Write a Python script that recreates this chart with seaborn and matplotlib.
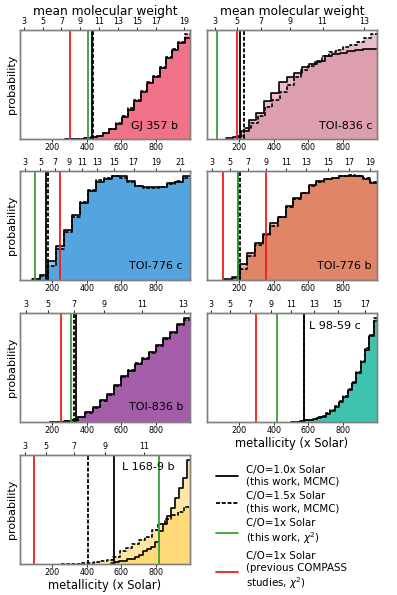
import numpy as np
import matplotlib
matplotlib.use("Agg")
import matplotlib.pyplot as plt
from matplotlib.lines import Line2D
import seaborn as sns

# Panels, read left->right, top->bottom
planets = ["GJ 357 b", "TOI-836 c", "TOI-776 c", "TOI-776 b", "TOI-836 b", "L 98-59 c", "L 168-9 b"]
fill_colors = ["#eb4562", "#d38094", "#1c87d7", "#d75f37", "#872a8e", "#00af94", "#ffce4b"]

# lowest metallicity sample of each posterior (all run up to 1000x Solar)
start_co10 = [277, 123, 86, 115, 190, 500, 540]
start_co15 = [277, 190, 86, 115, 190, 500, 252]

# 20-bin histogram heights (normalised to panel height)
hist_co10 = {
    "GJ 357 b": [0.003, 0.003, 0.004, 0.006, 0.015, 0.03, 0.055, 0.09, 0.14, 0.20,
                 0.27, 0.35, 0.43, 0.51, 0.57, 0.65, 0.74, 0.82, 0.88, 0.93],
    "TOI-836 c": [0.005, 0.015, 0.07, 0.17, 0.24, 0.35, 0.42, 0.52, 0.57, 0.61,
                  0.66, 0.69, 0.72, 0.76, 0.78, 0.79, 0.81, 0.82, 0.83, 0.83],
    "TOI-776 c": [0.008, 0.05, 0.17, 0.31, 0.46, 0.60, 0.71, 0.82, 0.90, 0.93,
                  0.95, 0.95, 0.91, 0.86, 0.85, 0.85, 0.85, 0.89, 0.90, 0.95],
    "TOI-776 b": [0.005, 0.025, 0.145, 0.25, 0.34, 0.42, 0.52, 0.58, 0.68, 0.75,
                  0.80, 0.87, 0.91, 0.93, 0.94, 0.95, 0.95, 0.95, 0.93, 0.89],
    "TOI-836 b": [0.003, 0.003, 0.005, 0.02, 0.05, 0.09, 0.14, 0.20, 0.26, 0.34,
                  0.42, 0.47, 0.53, 0.58, 0.64, 0.71, 0.77, 0.83, 0.90, 0.95],
    "L 98-59 c": [0.003, 0.004, 0.006, 0.015, 0.02, 0.03, 0.04, 0.05, 0.076, 0.10,
                  0.14, 0.18, 0.23, 0.29, 0.36, 0.45, 0.55, 0.66, 0.79, 0.93],
    "L 168-9 b": [0.005, 0.015, 0.025, 0.03, 0.042, 0.05, 0.066, 0.087, 0.117, 0.14,
                  0.157, 0.20, 0.30, 0.37, 0.44, 0.51, 0.61, 0.70, 0.79, 0.95],
}
hist_co15 = {
    "GJ 357 b": [0.003, 0.003, 0.004, 0.007, 0.017, 0.032, 0.058, 0.095, 0.145, 0.21,
                 0.28, 0.36, 0.44, 0.52, 0.58, 0.66, 0.75, 0.83, 0.89, 0.96],
    "TOI-836 c": [0.03, 0.10, 0.15, 0.21, 0.29, 0.36, 0.43, 0.50, 0.57, 0.63,
                  0.67, 0.71, 0.76, 0.80, 0.82, 0.84, 0.86, 0.89, 0.93, 0.96],
    "TOI-776 c": [0.005, 0.035, 0.13, 0.28, 0.44, 0.58, 0.72, 0.83, 0.92, 0.94,
                  0.95, 0.94, 0.90, 0.86, 0.84, 0.84, 0.85, 0.88, 0.91, 0.94],
    "TOI-776 b": [0.003, 0.015, 0.10, 0.22, 0.32, 0.41, 0.50, 0.58, 0.67, 0.74,
                  0.80, 0.86, 0.90, 0.93, 0.94, 0.95, 0.96, 0.95, 0.94, 0.90],
    "TOI-836 b": [0.003, 0.003, 0.006, 0.022, 0.048, 0.085, 0.13, 0.19, 0.25, 0.33,
                  0.41, 0.48, 0.54, 0.59, 0.63, 0.70, 0.76, 0.82, 0.89, 0.94],
    "L 98-59 c": [0.003, 0.004, 0.006, 0.014, 0.022, 0.032, 0.042, 0.055, 0.08, 0.11,
                  0.145, 0.19, 0.24, 0.30, 0.37, 0.46, 0.56, 0.68, 0.80, 0.95],
    "L 168-9 b": [0.002, 0.003, 0.004, 0.006, 0.012, 0.016, 0.025, 0.035, 0.06, 0.12,
                  0.15, 0.18, 0.22, 0.25, 0.31, 0.37, 0.41, 0.45, 0.48, 0.52],
}

# vertical markers (metallicity, x Solar)
mcmc_co10 = [429, 205, 166, 196, 337, 576, 559]
mcmc_co15 = [436, 229, 175, 204, 324, 576, 408]
chi2_this = [406, 72, 99, 191, 309, 418, 819]
chi2_prev = [[306], [187], [244], [109, 357], [253], [299], [97]]

# mean molecular weight axis: tick positions in metallicity units
mmw_pos = [
    [37, 146, 254, 363, 473, 579, 690, 800, 960],
    [63, 187, 326, 494, 681, 919],
    [42, 133, 219, 295, 371, 457, 556, 670, 800, 937],
    [45, 147, 253, 357, 469, 588, 711, 834, 957],
    [48, 177, 324, 501, 720, 958],
    [38, 150, 261, 382, 500, 634, 768, 926],
    [45, 165, 324, 505, 732],
]
mmw_labels = [
    [3, 5, 7, 9, 11, 13, 15, 17, 19],
    [3, 5, 7, 9, 11, 13],
    [3, 5, 7, 9, 11, 13, 15, 17, 19, 21],
    [3, 5, 7, 9, 11, 13, 15, 17, 19],
    [3, 5, 7, 9, 11, 13],
    [3, 5, 7, 9, 11, 13, 15, 17],
    [3, 5, 7, 9, 11],
]
metal_ticks = [200, 400, 600, 800]

# where the planet name sits (axes fraction)
name_pos = [(0.93, 0.12, "right"), (0.975, 0.12, "right"), (0.955, 0.13, "right"),
            (0.965, 0.13, "right"), (0.96, 0.135, "right"), (0.60, 0.88, "left"),
            (0.60, 0.89, "left")]

sns.set_style("white")
plt.rcParams["font.family"] = ["DejaVu Sans"]
plt.rcParams["text.color"] = "black"
plt.rcParams["axes.labelcolor"] = "black"
plt.rcParams["xtick.color"] = "black"

GREEN = "#3a9e3a"
RED = "#ee1c1c"
FRAME = "#808080"
DASH = (0, (2.2, 1.0))

fig = plt.figure(figsize=(3.97, 5.95), dpi=100)
W, H = 397, 595
tops = [30, 171, 313, 455]
lefts = [20, 207]

for i, name in enumerate(planets):
    row, col = divmod(i, 2)
    ax = fig.add_axes([lefts[col] / W, 1 - (tops[row] + 109) / H, 170 / W, 109 / H])

    series = [(start_co15[i], hist_co15[name], DASH),
              (start_co10[i], hist_co10[name], "-")]
    # filled areas first, outlines on top
    for start, heights, ls in series:
        edges = np.linspace(start, 1000, len(heights) + 1)
        centers = 0.5 * (edges[:-1] + edges[1:])
        sns.histplot(x=centers, weights=heights, bins=list(edges), element="step", fill=True,
                     color=fill_colors[i], alpha=0.5, linewidth=0, ax=ax)
    for start, heights, ls in series:
        edges = np.linspace(start, 1000, len(heights) + 1)
        centers = 0.5 * (edges[:-1] + edges[1:])
        sns.histplot(x=centers, weights=heights, bins=list(edges), element="step", fill=False,
                     color="black", linewidth=1.2, linestyle=ls, ax=ax)

    ax.axvline(mcmc_co10[i], color="black", lw=1.3)
    ax.axvline(mcmc_co15[i], color="black", lw=1.3, ls=DASH)
    ax.axvline(chi2_this[i], color=GREEN, lw=1.3)
    for x in chi2_prev[i]:
        ax.axvline(x, color=RED, lw=1.3)

    ax.set_xlim(15, 995)
    ax.set_ylim(0, 1)
    ax.set_yticks([])
    ax.set_xticks(metal_ticks)
    ax.tick_params(axis="x", labelsize=5.8, length=2, width=0.6, pad=1)
    ax.set_xlabel("")
    ax.set_ylabel("probability" if col == 0 else "", fontsize=8, labelpad=2)
    for sp in ax.spines.values():
        sp.set_color(FRAME)
        sp.set_linewidth(1.0)

    top = ax.twiny()
    top.set_xlim(ax.get_xlim())
    top.set_xticks(mmw_pos[i])
    top.set_xticklabels([str(v) for v in mmw_labels[i]])
    top.tick_params(axis="x", labelsize=5.8, length=2, width=0.6, pad=1)
    for sp in top.spines.values():
        sp.set_color(FRAME)
        sp.set_linewidth(1.0)
    if row == 0:
        top.set_xlabel("mean molecular weight", fontsize=8.8, labelpad=1.5)

    if name in ("L 98-59 c", "L 168-9 b"):
        ax.set_xlabel("metallicity (x Solar)", fontsize=8.3, labelpad=1)

    nx, ny, ha = name_pos[i]
    ax.text(nx, ny, name, transform=ax.transAxes, ha=ha, va="center", fontsize=8)

handles = [
    Line2D([], [], color="black", lw=1.3),
    Line2D([], [], color="black", lw=1.3, ls=DASH),
    Line2D([], [], color=GREEN, lw=1.3),
    Line2D([], [], color=RED, lw=1.3),
]
labels = [
    "C/O=1.0x Solar\n(this work, MCMC)",
    "C/O=1.5x Solar\n(this work, MCMC)",
    "C/O=1x Solar\n(this work, $\\chi^2$)",
    "C/O=1x Solar\n(previous COMPASS\nstudies, $\\chi^2$)",
]
fig.legend(handles, labels, loc="upper left", bbox_to_anchor=(0.543, 0.219),
           frameon=False, fontsize=7.4, handlelength=2.2, handletextpad=0.8,
           labelspacing=0.5, borderpad=0, borderaxespad=0)

fig.savefig("out.png", dpi=100)
